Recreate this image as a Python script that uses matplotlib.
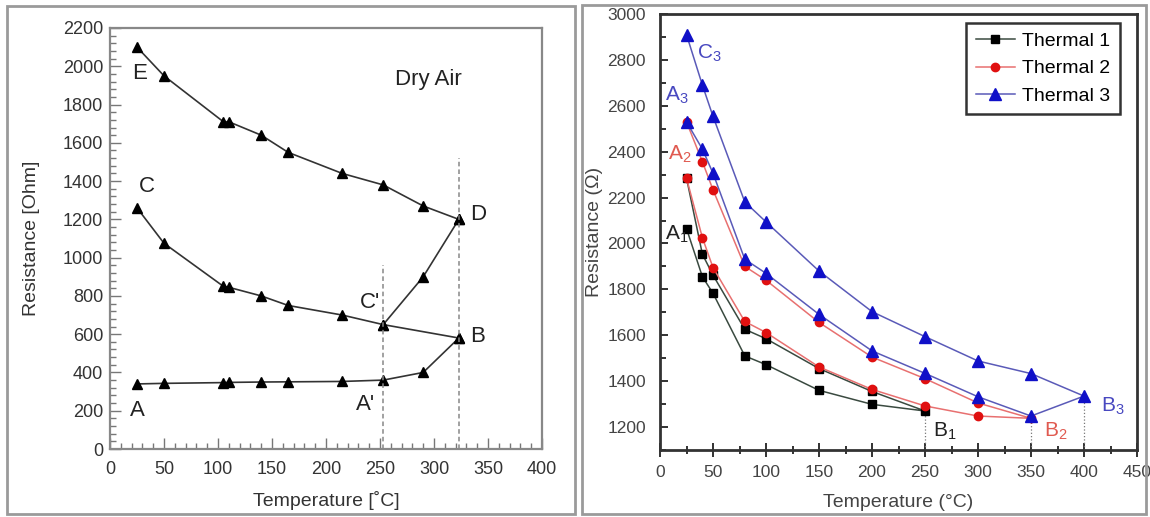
import matplotlib
matplotlib.use("Agg")
import matplotlib.pyplot as plt
from matplotlib.patches import Rectangle
from matplotlib.ticker import MultipleLocator

plt.rcParams['font.family'] = ['Liberation Sans', 'DejaVu Sans']
plt.rcParams['mathtext.fontset'] = 'custom'
plt.rcParams['mathtext.rm'] = 'Liberation Sans'
plt.rcParams['mathtext.it'] = 'Liberation Sans'

# ---------------- Left panel data (Dry Air) ----------------
T_AB = [25, 50, 105, 110, 140, 165, 215, 253, 290, 323]
R_AB = [340, 343, 347, 348, 350, 351, 353, 360, 400, 580]
T_CB = [25, 50, 105, 110, 140, 165, 215, 253, 323]
R_CB = [1260, 1075, 850, 845, 800, 750, 700, 650, 580]
T_CD = [253, 290, 323]
R_CD = [650, 900, 1200]
T_ED = [25, 50, 105, 110, 140, 165, 215, 253, 290, 323]
R_ED = [2100, 1950, 1710, 1710, 1640, 1550, 1440, 1380, 1270, 1200]
left_vlines_x = [253, 323]
left_vlines_top = [960, 1520]
left_labels = ["E", "C", "A", "A'", "C'", "D", "B"]
left_label_x = [27, 34, 25, 237, 241, 341, 340]
left_label_y = [1960, 1370, 200, 235, 765, 1225, 590]

# ---------------- Right panel data (thermal cycles) ----------------
T1 = [25, 40, 50, 80, 100, 150, 200, 250, 200, 150, 100, 80, 50, 40, 25]
R1 = [2065, 1855, 1783, 1510, 1472, 1360, 1299, 1270, 1355, 1455, 1585, 1626, 1862, 1953, 2285]
T2 = [25, 40, 50, 80, 100, 150, 200, 250, 300, 350, 300, 250, 200, 150, 100, 80, 50, 40, 25]
R2 = [2285, 2025, 1895, 1660, 1612, 1462, 1364, 1292, 1248, 1238, 1305, 1411, 1505, 1656, 1840, 1900, 2234, 2356, 2530]
T3 = [25, 40, 50, 80, 100, 150, 200, 250, 300, 350, 400, 350, 300, 250, 200, 150, 100, 80, 50, 40, 25]
R3 = [2530, 2411, 2306, 1931, 1870, 1691, 1532, 1434, 1332, 1248, 1335, 1433, 1488, 1594, 1703, 1880, 2094, 2181, 2554, 2690, 2910]
series_names = ["Thermal 1", "Thermal 2", "Thermal 3"]
right_vlines_x = [250, 350, 400]
right_vlines_top = [1270, 1238, 1335]

W, H = 1150, 517
fig = plt.figure(figsize=(W / 100, H / 100), dpi=100)

def px_axes(l, t, r, b):
    return fig.add_axes([l / W, 1 - b / H, (r - l) / W, (b - t) / H])

# panel borders
for (x0, y0, x1, y1) in [(7, 6, 575, 514), (582, 5, 1146, 514)]:
    fig.add_artist(Rectangle((x0 / W, 1 - y1 / H), (x1 - x0) / W, (y1 - y0) / H,
                             transform=fig.transFigure, fill=False,
                             ec='#9a9a9a', lw=2))

# ---------------- Left axes ----------------
ax1 = px_axes(110, 28, 542, 449)
ax1.set_xlim(0, 400)
ax1.set_ylim(0, 2200)
lc = '#333333'
for T, R in [(T_AB, R_AB), (T_CB, R_CB), (T_CD, R_CD), (T_ED, R_ED)]:
    ax1.plot(T, R, color=lc, lw=1.2, marker='^', ms=7, mfc='black', mec='black')
for x, top in zip(left_vlines_x, left_vlines_top):
    ax1.plot([x, x], [0, top], color='#888888', lw=1.1, dashes=(3, 2))
for s, x, y in zip(left_labels, left_label_x, left_label_y):
    ax1.text(x, y, s, fontsize=16, ha='center', va='center', color='#222222')
ax1.text(295, 1930, "Dry Air", fontsize=16, ha='center', va='center', color='#222222')
ax1.xaxis.set_major_locator(MultipleLocator(50))
ax1.xaxis.set_minor_locator(MultipleLocator(10))
ax1.yaxis.set_major_locator(MultipleLocator(200))
ax1.yaxis.set_minor_locator(MultipleLocator(40))
ax1.tick_params(which='both', direction='in', top=False, right=False,
                color='#777777', labelcolor='#333333', labelsize=13)
ax1.tick_params(which='major', length=8, width=1)
ax1.tick_params(which='minor', length=4, width=1)
ax1.tick_params(axis='x', which='major', pad=9)
ax1.tick_params(axis='y', which='major', pad=5)
for sp in ax1.spines.values():
    sp.set_color('#888888')
    sp.set_linewidth(1.6)
ax1.set_xlabel("Temperature [˚C]", fontsize=14, color='#333333', labelpad=9)
ax1.set_ylabel("Resistance [Ohm]", fontsize=14, color='#333333', labelpad=16)

# ---------------- Right axes ----------------
ax2 = px_axes(660, 14, 1137, 450)
ax2.set_xlim(0, 450)
ax2.set_ylim(1100, 3000)
for x, top in zip(right_vlines_x, right_vlines_top):
    ax2.plot([x, x], [1100, top], color='#777777', lw=0.9, ls=':')
ax2.plot(T1, R1, color='#3a4a40', lw=1.1, marker='s', ms=6, mfc='black', mec='black',
         label=series_names[0])
ax2.plot(T2, R2, color='#e87070', lw=1.1, marker='o', ms=6, mfc='#e01010', mec='#e01010',
         label=series_names[1])
ax2.plot(T3, R3, color='#5a5ab8', lw=1.1, marker='^', ms=8, mfc='#1010c8', mec='#1010c8',
         label=series_names[2])
blue_t = '#4848c0'
red_t = '#e05a50'
ax2.text(35, 2805, r"C$_\mathregular{3}$", fontsize=15, color=blue_t, ha='left', va='baseline')
ax2.text(5, 2622, r"A$_\mathregular{3}$", fontsize=15, color=blue_t, ha='left', va='baseline')
ax2.text(8, 2367, r"A$_\mathregular{2}$", fontsize=15, color=red_t, ha='left', va='baseline')
ax2.text(5, 2017, r"A$_\mathregular{1}$", fontsize=15, color='#222222', ha='left', va='baseline')
ax2.text(258, 1158, r"B$_\mathregular{1}$", fontsize=15, color='#222222', ha='left', va='baseline')
ax2.text(362, 1158, r"B$_\mathregular{2}$", fontsize=15, color=red_t, ha='left', va='baseline')
ax2.text(416, 1267, r"B$_\mathregular{3}$", fontsize=15, color=blue_t, ha='left', va='baseline')
ax2.xaxis.set_major_locator(MultipleLocator(50))
ax2.xaxis.set_minor_locator(MultipleLocator(25))
ax2.yaxis.set_major_locator(MultipleLocator(200))
ax2.yaxis.set_minor_locator(MultipleLocator(100))
ax2.set_yticks(range(1200, 3001, 200))
ax2.tick_params(axis='x', which='both', direction='inout', top=False,
                color='#222222', labelcolor='#444444', labelsize=12.5)
ax2.tick_params(axis='x', which='major', length=10, width=1.3, pad=6)
ax2.tick_params(axis='x', which='minor', length=6, width=1.3)
ax2.tick_params(axis='y', which='both', direction='in', right=False,
                color='#222222', labelcolor='#444444', labelsize=12.5)
ax2.tick_params(axis='y', which='major', length=6, width=1.3, pad=10)
ax2.tick_params(axis='y', which='minor', length=4, width=1.3)
for sp in ax2.spines.values():
    sp.set_color('#333333')
    sp.set_linewidth(2)
ax2.set_xlabel("Temperature (°C)", fontsize=14, color='#444444', labelpad=10)
ax2.set_ylabel("Resistance (Ω)", fontsize=14, color='#444444', labelpad=3)
leg = ax2.legend(loc='upper right', bbox_to_anchor=(0.965, 0.98), fontsize=14,
                 frameon=True, fancybox=False, framealpha=1, borderpad=0.5,
                 labelspacing=0.5, handlelength=2.0, handletextpad=0.4,
                 borderaxespad=0)
leg.get_frame().set_edgecolor('#333333')
leg.get_frame().set_linewidth(1.8)

fig.savefig("out.png", dpi=100)
